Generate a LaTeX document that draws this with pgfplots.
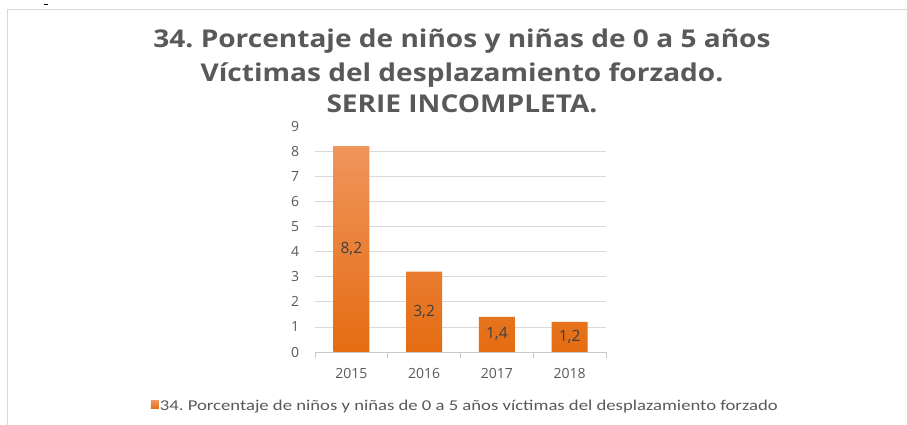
\documentclass[border=0pt]{standalone}
\usepackage{pgfplots}
\pgfplotsset{compat=1.18}
\usepackage{fontspec}
\setmainfont{Open Sans}
\newfontfamily\legfont{Carlito}
\frenchspacing
\definecolor{titlegray}{HTML}{595959}
\definecolor{labelgray}{HTML}{595959}
\definecolor{datagray}{HTML}{404040}
\definecolor{gridgray}{HTML}{D9D9D9}
\definecolor{axisgray}{HTML}{C8C8C8}
\definecolor{bordergray}{HTML}{D9D9D9}
\definecolor{bartop}{HTML}{F0955C}
\definecolor{barbot}{HTML}{E46C12}
\definecolor{barmid}{HTML}{ED7D31}
\begin{document}
\begin{tikzpicture}[x=1pt,y=1pt]
\useasboundingbox (0,0) rectangle (907,425);
\fill[white] (0,0) rectangle (907,425);
\draw[bordergray, line width=1pt] (7.5,0) -- (7.5,415) -- (907,415);
\draw[black, line width=1pt] (44,420) -- (48,420);
\node[anchor=base, inner sep=0pt, font=\bfseries\fontsize{24.5}{29}\selectfont, text=titlegray] at (462,377) {\scalebox{1.145}[1]{34. Porcentaje de niños y niñas de 0 a 5 años}};
\node[anchor=base, inner sep=0pt, font=\bfseries\fontsize{24.5}{29}\selectfont, text=titlegray] at (462,343) {\scalebox{1.145}[1]{Víctimas del desplazamiento forzado.}};
\node[anchor=base, inner sep=0pt, font=\bfseries\fontsize{24.5}{29}\selectfont, text=titlegray] at (462,312) {\scalebox{1.145}[1]{SERIE INCOMPLETA.}};
\begin{axis}[
  at={(315pt,73pt)}, anchor=south west,
  scale only axis, width=291pt, height=226pt,
  xmin=-0.5, xmax=3.5, ymin=0, ymax=9,
  xtick={0,1,2,3}, xticklabels={2015,2016,2017,2018},
  major x tick style={draw=none},
  minor xtick={-0.5,0.5,1.5,2.5,3.5},
  minor x tick style={axisgray, line width=0.75pt},
  minor tick length=6pt,
  tick align=outside,
  ytick={0,1,...,8}, extra y ticks={9}, extra y tick style={grid=none},
  ytick style={draw=none},
  ymajorgrids, grid style={gridgray, line width=0.75pt},
  axis x line*=bottom, axis y line*=left,
  y axis line style={draw=none},
  x axis line style={axisgray, line width=0.75pt},
  tick label style={font=\fontsize{14}{16}\selectfont, text=labelgray},
  yticklabel style={xshift=-8pt},
  xticklabel style={yshift=-9pt},
  /pgf/number format/assume math mode=true,
  legend style={at={(0.515,-0.238)}, anchor=center, draw=none, fill=none,
    font=\legfont\fontsize{15}{17}\selectfont, text=labelgray,
    nodes={inner xsep=1pt}},
  legend image code/.code={\fill[barmid] (0pt,-3pt) rectangle (8pt,5pt);},
]
\addplot[ybar, bar width=36pt, draw=none, top color=bartop, bottom color=barbot,
  visualization depends on={rawy \as \rawy},
  nodes near coords={\pgfmathprintnumber[use comma,fixed,fixed zerofill,precision=1,assume math mode=true]{\pgfplotspointmeta}},
  every node near coord/.append style={anchor=center, yshift={-\rawy*12.5556pt}, font=\fontsize{15.5}{17}\selectfont, text=datagray}]
  coordinates {(0,8.2) (1,3.2) (2,1.4) (3,1.2)};
\addlegendentry{\scalebox{1.245}[1]{34. Porcentaje de niños y niñas de 0 a 5 años víctimas del desplazamiento forzado}}
\end{axis}
\end{tikzpicture}
\end{document}
